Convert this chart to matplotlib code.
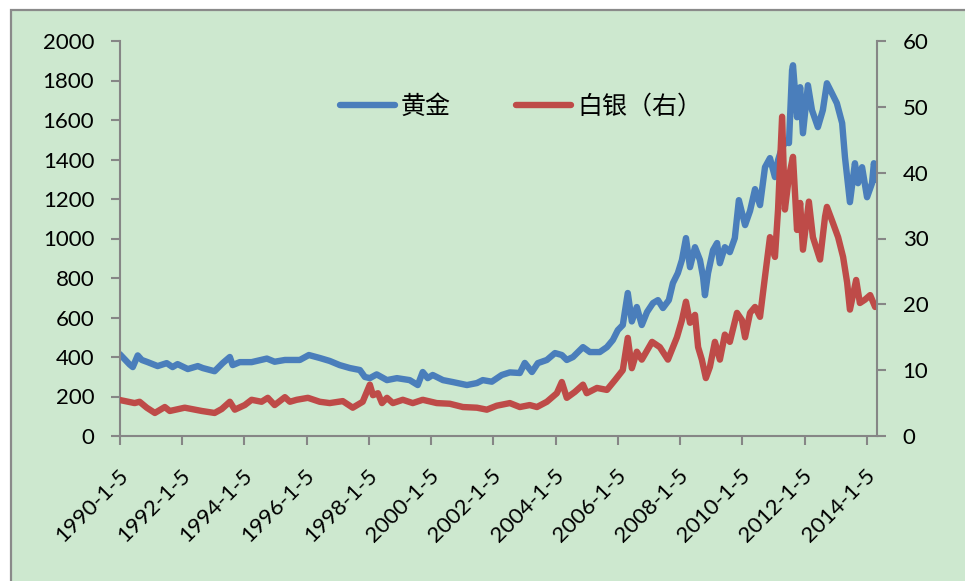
import matplotlib
matplotlib.use("Agg")
import matplotlib.pyplot as plt
from matplotlib.patches import Rectangle
from matplotlib.transforms import ScaledTranslation

# ---------------- data ----------------
gold_years = [1990.00, 1990.32, 1990.42, 1990.58, 1990.71, 1990.90, 1991.22, 1991.51, 1991.70, 1991.86,
              1992.19, 1992.51, 1992.67, 1993.05, 1993.31, 1993.54, 1993.63, 1993.86, 1994.24, 1994.73,
              1994.98, 1995.31, 1995.79, 1996.08, 1996.43, 1996.75, 1997.07, 1997.40, 1997.72, 1997.88,
              1998.04, 1998.26, 1998.59, 1998.91, 1999.32, 1999.58, 1999.74, 1999.90, 2000.06, 2000.39,
              2000.71, 2001.16, 2001.48, 2001.67, 2001.96, 2002.28, 2002.54, 2002.86, 2003.02, 2003.25,
              2003.44, 2003.73, 2003.99, 2004.21, 2004.37, 2004.57, 2004.89, 2005.11, 2005.43, 2005.66,
              2005.85, 2006.01, 2006.17, 2006.33, 2006.46, 2006.62, 2006.78, 2006.95, 2007.14, 2007.30,
              2007.46, 2007.65, 2007.78, 2007.94, 2008.07, 2008.20, 2008.33, 2008.49, 2008.65, 2008.75,
              2008.81, 2008.91, 2009.07, 2009.20, 2009.29, 2009.45, 2009.61, 2009.77, 2009.90, 2010.10,
              2010.26, 2010.42, 2010.58, 2010.74, 2010.90, 2011.06, 2011.16, 2011.29, 2011.45, 2011.51,
              2011.61, 2011.64, 2011.77, 2011.87, 2011.96, 2012.12, 2012.25, 2012.44, 2012.60, 2012.73,
              2012.89, 2013.05, 2013.22, 2013.31, 2013.47, 2013.63, 2013.73, 2013.86, 2014.02, 2014.18,
              2014.24, 2014.34]
gold_prices = [415, 362, 349, 408, 385, 374, 354, 369, 349, 364,
               339, 354, 344, 328, 369, 400, 359, 374, 374, 392,
               376, 385, 385, 410, 395, 380, 359, 344, 334, 299,
               293, 312, 283, 293, 283, 258, 324, 293, 309, 283,
               273, 258, 268, 283, 275, 309, 322, 319, 370, 324,
               369, 385, 420, 410, 385, 400, 450, 425, 425, 450,
               486, 536, 562, 724, 580, 653, 562, 628, 673, 688,
               648, 688, 774, 825, 891, 1002, 855, 956, 891, 805,
               713, 825, 941, 977, 875, 956, 931, 1002, 1194, 1068,
               1140, 1250, 1169, 1361, 1407, 1311, 1397, 1462, 1498, 1483,
               1852, 1877, 1614, 1766, 1533, 1776, 1650, 1564, 1650, 1786,
               1736, 1685, 1584, 1412, 1184, 1381, 1280, 1361, 1209, 1280,
               1381, 1295]

silver_years = [1990.00, 1990.48, 1990.64, 1990.87, 1991.13, 1991.45, 1991.61, 1992.09, 1992.64, 1993.05,
                1993.28, 1993.54, 1993.70, 1994.02, 1994.24, 1994.56, 1994.76, 1994.98, 1995.31, 1995.47,
                1995.69, 1996.05, 1996.43, 1996.75, 1997.17, 1997.49, 1997.81, 1998.04, 1998.14, 1998.30,
                1998.43, 1998.59, 1998.78, 1999.10, 1999.42, 1999.74, 2000.19, 2000.61, 2001.03, 2001.48,
                2001.80, 2002.12, 2002.54, 2002.86, 2003.18, 2003.41, 2003.73, 2004.05, 2004.21, 2004.37,
                2004.63, 2004.89, 2005.01, 2005.34, 2005.66, 2005.92, 2006.17, 2006.33, 2006.46, 2006.62,
                2006.78, 2007.11, 2007.36, 2007.62, 2007.91, 2008.07, 2008.20, 2008.33, 2008.49, 2008.59,
                2008.71, 2008.84, 2008.97, 2009.13, 2009.29, 2009.45, 2009.61, 2009.84, 2010.00, 2010.10,
                2010.26, 2010.42, 2010.58, 2010.74, 2010.90, 2011.06, 2011.16, 2011.29, 2011.38, 2011.51,
                2011.64, 2011.77, 2011.87, 2011.96, 2012.15, 2012.28, 2012.51, 2012.67, 2012.73, 2012.92,
                2013.09, 2013.25, 2013.38, 2013.47, 2013.67, 2013.79, 2013.95, 2014.12, 2014.28, 2014.34]
silver_prices = [5.47, 5.0, 5.2, 4.3, 3.5, 4.4, 3.8, 4.3, 3.8, 3.5,
                 4.1, 5.2, 4.0, 4.7, 5.5, 5.2, 5.8, 4.7, 5.9, 5.2,
                 5.5, 5.8, 5.2, 5.0, 5.3, 4.3, 5.2, 7.8, 6.2, 6.5,
                 5.0, 5.8, 5.0, 5.5, 5.0, 5.5, 5.0, 4.9, 4.4, 4.3,
                 4.0, 4.6, 5.0, 4.4, 4.7, 4.4, 5.2, 6.5, 8.2, 5.8,
                 6.7, 7.8, 6.5, 7.3, 7.0, 8.5, 10.0, 14.9, 10.3, 12.8,
                 11.6, 14.3, 13.5, 11.6, 15.0, 17.6, 20.4, 17.2, 18.4, 13.5,
                 11.6, 8.8, 10.5, 14.3, 11.6, 15.4, 14.3, 18.7, 17.6, 15.0,
                 18.7, 19.6, 18.1, 24.2, 30.2, 27.2, 34.4, 48.5, 34.4, 39.4,
                 42.4, 31.3, 35.4, 28.3, 35.6, 30.2, 26.8, 33.3, 34.8, 32.4,
                 30.2, 27.2, 23.3, 19.2, 23.7, 20.2, 20.7, 21.4, 19.6, 19.9]

tick_years = [1990.01, 1992.01, 1994.01, 1996.01, 1998.01, 2000.01, 2002.01,
              2004.01, 2006.01, 2008.01, 2010.01, 2012.01, 2014.01]
tick_labels = ["1990-1-5", "1992-1-5", "1994-1-5", "1996-1-5", "1998-1-5", "2000-1-5", "2002-1-5",
               "2004-1-5", "2006-1-5", "2008-1-5", "2010-1-5", "2012-1-5", "2014-1-5"]
left_ticks = [0, 200, 400, 600, 800, 1000, 1200, 1400, 1600, 1800, 2000]
right_ticks = [0, 10, 20, 30, 40, 50, 60]
gold_label = "黄金"
silver_label = "白银（右）"

# ---------------- style ----------------
BG = "#cde8cf"
BLUE = "#4a7ebb"
RED = "#be4b48"
AXC = "#868686"
TICK_FONT = "Lato"
CJK = ["Noto Sans CJK SC", "DejaVu Sans"]

plt.rcParams["font.family"] = [TICK_FONT, "DejaVu Sans"]

fig = plt.figure(figsize=(9.65, 5.81), dpi=100, facecolor="white")
# chart area background with grey border
fig.patches.append(Rectangle((11 / 965, -0.1), 1.2, (581 - 10) / 581 + 0.1,
                             transform=fig.transFigure, facecolor=BG,
                             edgecolor="#8a8a8a", linewidth=1.6, zorder=-10))

ax = fig.add_axes([120 / 965, 1 - 436 / 581, (877 - 120) / 965, (436 - 41) / 581])
ax.set_facecolor("none")
ax2 = ax.twinx()
ax2.set_facecolor("none")

lg, = ax.plot(gold_years, gold_prices, color=BLUE, lw=4.6,
              solid_joinstyle="round", solid_capstyle="round", label=gold_label)
ls, = ax2.plot(silver_years, silver_prices, color=RED, lw=4.6,
               solid_joinstyle="round", solid_capstyle="round", label=silver_label)

ax.set_xlim(1990.01, 2014.34)
ax.set_ylim(0, 2000)
ax2.set_ylim(0, 60)
ax.set_yticks(left_ticks)
ax2.set_yticks(right_ticks)
ax.set_xticks(tick_years)
ax.set_xticklabels(tick_labels, rotation=45, ha="right", va="center",
                   rotation_mode="anchor")

for a in (ax, ax2):
    for s in a.spines.values():
        s.set_color(AXC)
        s.set_linewidth(1.5)
    a.spines["top"].set_visible(False)
ax.spines["right"].set_visible(False)
ax2.spines["left"].set_visible(False)
ax2.spines["bottom"].set_visible(False)

ax.tick_params(axis="y", direction="out", length=6.5, width=1.5, color=AXC,
               labelsize=16, pad=12, labelcolor="black")
ax2.tick_params(axis="y", direction="out", length=6.5, width=1.5, color=AXC,
                labelsize=16, pad=12, labelcolor="black")
ax.tick_params(axis="x", direction="out", length=6.5, width=1.5, color=AXC,
               labelsize=16, pad=20, labelcolor="black")
off = ScaledTranslation(5 / 100, 0, fig.dpi_scale_trans)
for lab in ax.get_xticklabels():
    lab.set_transform(lab.get_transform() + off)

leg = fig.legend([lg, ls], [gold_label, silver_label], loc="center",
                 bbox_to_anchor=(521 / 965, 1 - 107 / 581), ncol=2, frameon=False,
                 handlelength=2.2, handletextpad=0.25, columnspacing=2.6,
                 prop={"family": CJK, "size": 18})

fig.savefig("out.png", dpi=100, facecolor="white")
